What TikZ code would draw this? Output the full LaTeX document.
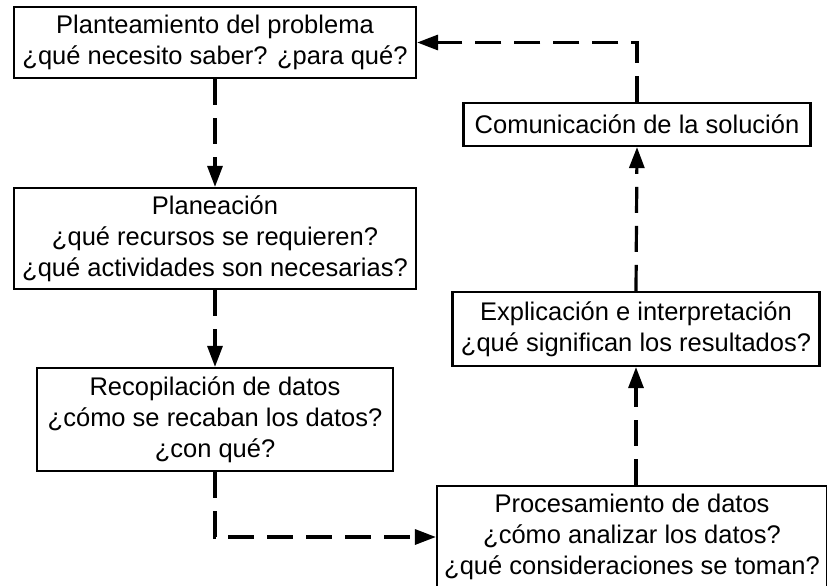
\documentclass[tikz,border=0pt]{standalone}
\usepackage{fontspec}
\setmainfont{Liberation Sans}
\usetikzlibrary{arrows.meta}
\begin{document}
\begin{tikzpicture}[x=1pt,y=-1pt,
  box/.style={draw, line width=2.2pt, inner sep=0pt, align=center,
    font=\fontsize{25.5}{31}\selectfont},
  arr/.style={line width=3.2pt, dash pattern=on 26pt off 13pt,
    -{Triangle[length=21pt,width=15pt]}}]
\useasboundingbox (0,0) rectangle (827,586);
\node[box, minimum width=402pt, minimum height=71pt] (b1) at (215,42.5)
  {Planteamiento del problema\\¿qué necesito saber? ¿para qué?};
\node[box, minimum width=402pt, minimum height=101pt] (b2) at (215,238.5)
  {Planeación\\¿qué recursos se requieren?\\¿qué actividades son necesarias?};
\node[box, minimum width=356pt, minimum height=103pt] (b3) at (215,419.5)
  {Recopilación de datos\\¿cómo se recaban los datos?\\¿con qué?};
\node[box, minimum width=390pt, minimum height=102pt] (b4) at (632,537)
  {Procesamiento de datos\\¿cómo analizar los datos?\\¿qué consideraciones se toman?};
\node[box, minimum width=367pt, minimum height=74pt] (b5) at (636,329)
  {Explicación e interpretación\\¿qué significan los resultados?};
\node[box, minimum width=347pt, minimum height=43pt] (b6) at (637,124.5)
  {Comunicación de la solución};
\draw[arr] (b1.south) -- (b2.north);
\draw[arr] (b2.south) -- (b3.north);
\draw[arr] (b3.south) |- (b4.west);
\draw[arr] (b4.north -| b5.south) -- (b5.south);
\draw[arr] (b5.north) -- (b6.south);
\draw[arr] (b6.north) |- (b1.east);
\end{tikzpicture}
\end{document}
